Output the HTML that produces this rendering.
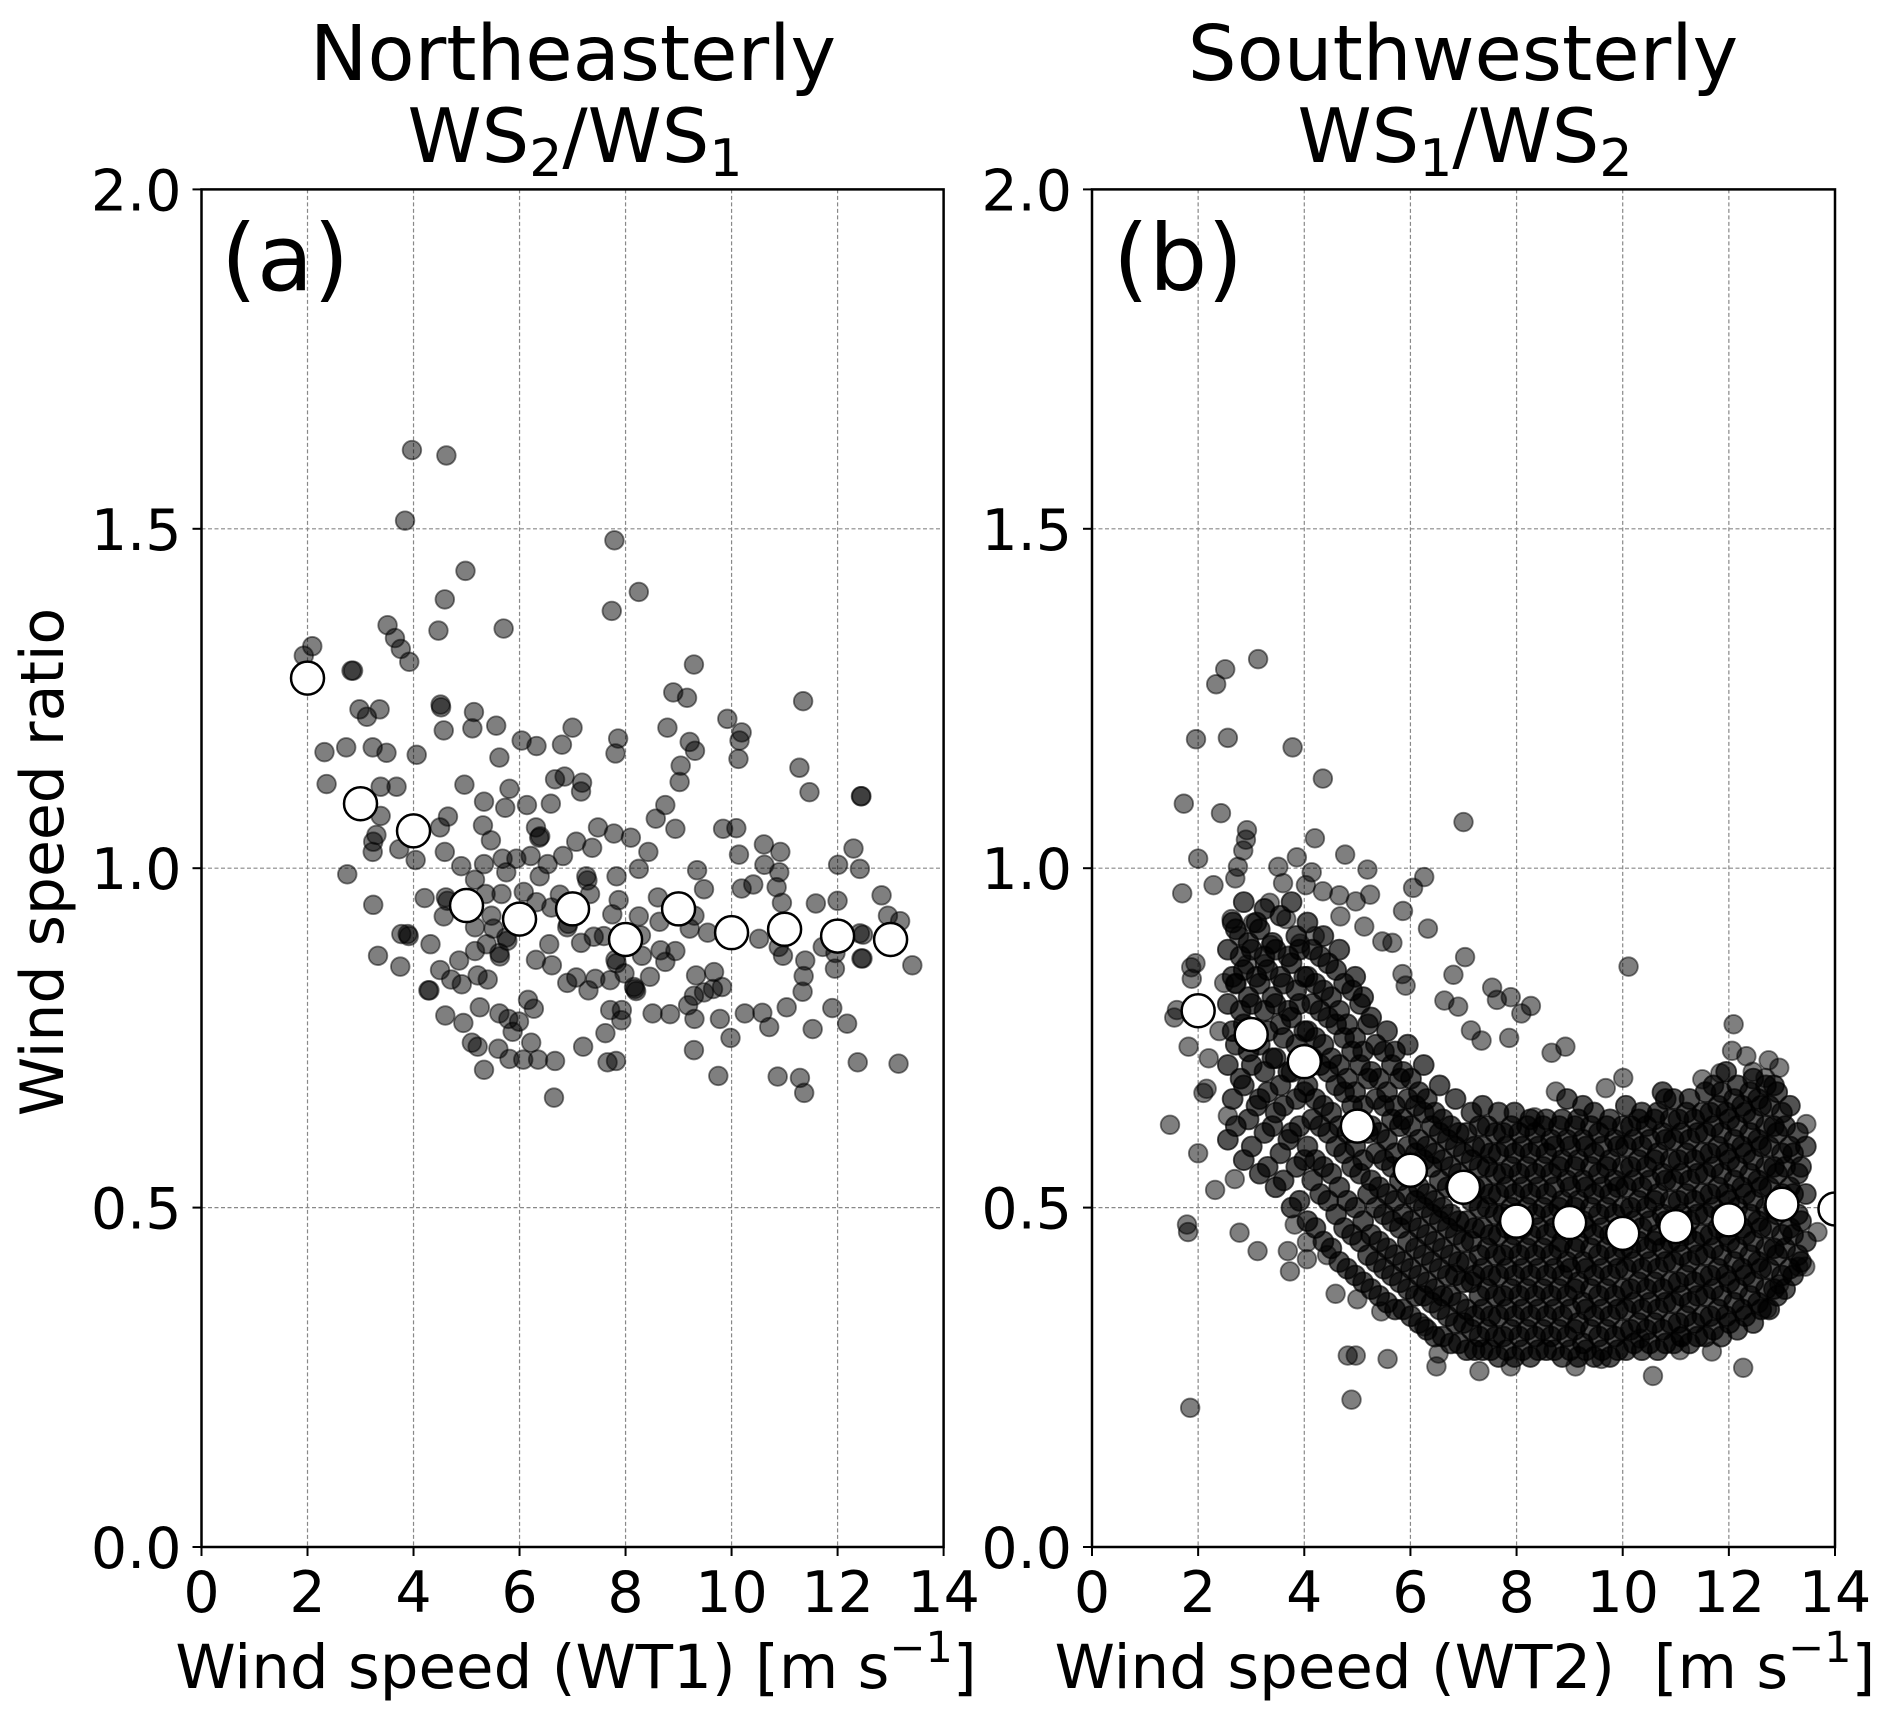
<!DOCTYPE html>
<html><head><meta charset="utf-8"><style>
html,body{margin:0;padding:0;background:#fff}
svg{display:block}
text{font-family:"DejaVu Sans","Liberation Sans",sans-serif;fill:#000}
</style></head><body>
<svg id="fig" width="1892" height="1721" viewBox="0 0 1892 1721" xmlns="http://www.w3.org/2000/svg">
<defs>
<clipPath id="clipA"><rect x="201.5" y="189.4" width="742.1" height="1357.6"/></clipPath>
<clipPath id="clipB"><rect x="1092" y="189.4" width="743" height="1357.6"/></clipPath>
</defs>
<g id="panelA"></g>
<g id="panelB"></g>
<text x="573" y="80" font-size="77" text-anchor="middle">Northeasterly</text>
<text x="575" y="162" font-size="75" text-anchor="middle">WS<tspan font-size="52" dy="14">2</tspan><tspan dy="-14">/WS</tspan><tspan font-size="52" dy="14">1</tspan></text>
<text x="1463" y="80" font-size="77" text-anchor="middle">Southwesterly</text>
<text x="1465" y="162" font-size="75" text-anchor="middle">WS<tspan font-size="52" dy="14">1</tspan><tspan dy="-14">/WS</tspan><tspan font-size="52" dy="14">2</tspan></text>
<text x="221" y="290" font-size="92">(a)</text>
<text x="1113" y="290" font-size="92">(b)</text>
<text x="576" y="1688" font-size="61" text-anchor="middle">Wind speed (WT1) [m s<tspan font-size="43" dy="-26">−1</tspan><tspan dy="26">]</tspan></text>
<text x="1465" y="1688" font-size="61" text-anchor="middle" xml:space="preserve" style="white-space:pre">Wind speed (WT2)  [m s<tspan font-size="43" dy="-26">−1</tspan><tspan dy="26">]</tspan></text>
<text transform="translate(63,862) rotate(-90)" font-size="60" text-anchor="middle">Wind speed ratio</text>
</svg>
<script>
const xTicks = [0,2,4,6,8,10,12,14];
const yTicks = [0.0,0.5,1.0,1.5,2.0];
const yTickLabels = ["0.0","0.5","1.0","1.5","2.0"];
const meanXA = [2,3,4,5,6,7,8,9,10,11,12,13];
const meanYA = [1.28,1.095,1.055,0.945,0.925,0.94,0.895,0.94,0.905,0.91,0.9,0.895];
const meanXB = [2,3,4,5,6,7,8,9,10,11,12,13,14];
const meanYB = [0.79,0.755,0.715,0.62,0.555,0.53,0.48,0.478,0.462,0.472,0.482,0.505,0.498];
const scatterA = "3.97,1.616 4.62,1.608 3.84,1.512 7.79,1.483 4.98,1.438 8.25,1.407 4.59,1.396 7.74,1.379 3.51,1.358 4.47,1.35 5.70,1.353 3.65,1.339 3.76,1.323 3.92,1.304 2.09,1.327 1.93,1.313 2.83,1.291 2.86,1.291 9.29,1.30 8.90,1.259 9.16,1.251 11.35,1.246 4.51,1.241 4.52,1.237 2.98,1.234 3.36,1.234 3.12,1.223 5.14,1.23 5.56,1.21 5.11,1.206 4.57,1.203 7.0,1.207 8.79,1.207 9.92,1.22 10.19,1.2 10.15,1.188 6.04,1.188 6.32,1.18 6.80,1.182 7.86,1.191 7.81,1.169 9.21,1.186 9.31,1.173 10.13,1.161 2.32,1.171 2.73,1.178 3.23,1.178 3.49,1.17 4.06,1.167 5.62,1.163 11.28,1.148 9.04,1.151 9.02,1.127 2.36,1.124 3.38,1.12 3.68,1.12 4.96,1.123 5.81,1.117 6.67,1.131 6.85,1.135 7.18,1.126 7.16,1.113 11.47,1.112 12.44,1.106 12.45,1.106 5.33,1.098 5.73,1.089 6.14,1.093 6.59,1.095 8.75,1.093 3.38,1.077 4.65,1.076 8.57,1.073 8.94,1.058 5.31,1.063 6.31,1.06 6.37,1.045 6.39,1.047 7.48,1.06 7.78,1.051 8.10,1.045 9.84,1.058 10.09,1.059 10.61,1.035 10.92,1.024 12.3,1.029 3.30,1.049 3.24,1.039 3.23,1.024 4.50,1.06 5.46,1.041 3.73,1.028 4.04,1.012 4.59,1.024 5.68,1.014 5.94,1.014 6.21,1.018 6.53,1.006 6.82,1.018 7.07,1.039 7.37,1.03 8.43,1.024 10.14,1.02 10.62,1.005 10.90,0.994 12.01,1.005 12.42,0.999 2.75,0.991 4.90,1.003 5.33,1.006 5.16,0.983 8.25,0.999 9.35,0.997 5.75,0.994 6.38,0.988 7.26,0.988 7.28,0.982 7.83,0.988 10.19,0.970 10.41,0.976 9.48,0.969 10.85,0.972 12.83,0.96 4.21,0.956 4.61,0.957 4.64,0.952 5.36,0.962 5.66,0.962 6.08,0.965 6.76,0.961 7.33,0.962 7.87,0.953 8.61,0.957 11.59,0.948 12.0,0.952 3.24,0.946 10.95,0.949 12.95,0.930 13.18,0.922 4.57,0.929 4.87,0.941 5.47,0.930 6.32,0.95 6.6,0.942 6.90,0.913 6.92,0.918 7.75,0.932 8.25,0.929 8.64,0.921 9.30,0.930 9.21,0.911 9.55,0.905 10.52,0.896 12.48,0.902 3.77,0.903 3.89,0.903 3.91,0.900 5.16,0.913 5.51,0.911 5.75,0.898 5.77,0.893 6.56,0.888 4.32,0.888 7.40,0.899 7.59,0.900 8.29,0.901 10.89,0.884 11.72,0.884 11.96,0.875 12.42,0.904 3.33,0.871 3.75,0.855 5.16,0.878 5.38,0.888 5.62,0.875 5.63,0.870 6.31,0.865 6.61,0.857 7.16,0.890 7.81,0.865 7.83,0.860 8.31,0.871 8.66,0.879 8.94,0.878 8.75,0.862 10.97,0.871 11.39,0.864 11.95,0.852 12.45,0.867 12.47,0.867 13.41,0.857 4.86,0.864 4.50,0.850 4.71,0.836 4.91,0.829 5.21,0.842 5.40,0.836 6.90,0.831 7.07,0.839 7.30,0.820 7.43,0.837 7.71,0.835 7.98,0.845 8.16,0.825 8.18,0.822 8.46,0.840 9.33,0.842 9.67,0.847 9.82,0.825 11.36,0.841 11.34,0.818 4.28,0.82 4.30,0.82 9.29,0.812 9.48,0.817 9.65,0.822 8.20,0.819 4.60,0.783 4.94,0.772 5.25,0.795 5.62,0.786 5.79,0.778 5.99,0.774 6.16,0.806 6.27,0.793 5.87,0.759 7.71,0.791 7.93,0.791 7.92,0.776 7.62,0.757 8.51,0.786 8.84,0.785 9.18,0.798 9.30,0.778 9.78,0.778 10.25,0.786 10.58,0.787 10.71,0.766 11.04,0.795 11.53,0.763 11.90,0.794 12.18,0.771 9.98,0.75 9.29,0.732 5.10,0.743 5.21,0.737 5.60,0.734 5.81,0.719 6.07,0.718 6.22,0.743 6.35,0.718 6.67,0.716 7.20,0.737 7.66,0.714 7.82,0.716 5.33,0.703 6.65,0.662 9.75,0.694 10.87,0.693 11.29,0.691 11.37,0.669 12.38,0.714 13.15,0.712";
const scatterB = "3.13,1.308 2.51,1.293 2.34,1.271 1.96,1.19 2.56,1.192 3.78,1.178 4.35,1.132 1.73,1.095 2.43,1.081 7.0,1.068 2.92,1.056 2.90,1.042 2.85,1.026 4.20,1.044 2.0,1.014 4.77,1.02 3.86,1.016 2.75,1.002 3.51,1.002 5.19,0.998 2.70,0.985 2.29,0.975 4.14,0.994 6.26,0.987 1.70,0.963 6.05,0.971 3.60,0.978 4.03,0.975 4.35,0.966 5.24,0.961 4.66,0.960 4.97,0.951 3.35,0.949 5.86,0.937 2.63,0.925 3.03,0.919 3.66,0.925 5.13,0.914 6.33,0.911 2.77,0.9 3.92,0.889 4.20,0.9 4.68,0.929 5.47,0.892 5.66,0.89 3.37,0.887 10.11,0.855 7.03,0.869 6.81,0.843 1.87,0.854 1.88,0.837 2.92,0.858 3.26,0.859 2.49,0.831 2.71,0.830 5.85,0.844 5.91,0.827 7.54,0.824 7.89,0.81 8.27,0.797 8.09,0.786 7.63,0.806 6.64,0.805 6.90,0.796 1.60,0.791 12.09,0.77 1.82,0.737 1.47,0.622 2.10,0.669 2.16,0.675 2.56,0.635 2.32,0.526 2.69,0.542 1.79,0.475 1.81,0.464 2.78,0.463 3.12,0.436 3.69,0.436 3.73,0.406 4.05,0.424 4.43,0.43 4.82,0.282 4.97,0.282 5.57,0.277 4.89,0.217 1.85,0.205 6.49,0.266 10.57,0.252 12.27,0.264 11.08,0.29 13.46,0.623 13.67,0.464 10.01,0.691 11.5,0.689 11.84,0.698 12.75,0.717 12.95,0.706 12.45,0.7 12.06,0.731 12.33,0.723 12.69,0.691 8.92,0.737 8.66,0.728 7.86,0.75 7.14,0.761 7.34,0.746 8.34,0.633 8.74,0.671 9.68,0.676 13.44,0.413 13.31,0.413 12.95,0.387 12.72,0.351 11.68,0.288 11.09,0.31 10.33,0.307 9.60,0.277 9.11,0.266 7.89,0.266 7.30,0.259 6.53,0.285 6.26,0.325 5.45,0.347 5.0,0.365 4.59,0.373 4.05,0.449 3.82,0.475 1.55,0.78 1.95,0.86 2.2,0.72 2.4,0.76 2.0,0.58";
const columnsB = [
"2.6|60 66 71 76 80 84 88 92","2.9|57 63 68 73 77 81 85 89 95","3.2|55 61 66 70 74 79 83 87 91 94",
"3.5|53 58 64 68 72 77 80 84 88 93","3.8|50 56 61 66 70 74 78 82 86 90 95","4.1|48 54 59 63 68 72 76 80 84 88 92",
"4.4|45 51 56 61 65 70 74 78 82 86 90","4.7|42 47 53 58 62 67 71 75 79 83 88","5.0|40 45 50 55 59 63 67 71 75 80 84",
"5.3|38 42 46 50 54 58 62 66 70 74 78","5.6|36 40 44 48 52 56 60 63 67 71 76","5.9|35 38 42 45 49 52 56 59 63 66 70 74",
"6.2|33 37 40 43 47 50 53 57 60 64 67 71","6.5|31 35 38 41 45 48 51 54 58 61 64 68","6.8|30 33 37 40 43 46 49 53 56 59 62 66",
"7.1|29 32 35 39 42 45 48 51 54 57 61 64","7.4|29 32 35 38 41 44 47 50 53 56 59 62 65","7.7|28 31 34 37 40 43 46 49 52 55 58 61 64",
"8.0|28 31 34 37 40 43 46 49 52 55 58 61 64","8.3|28 31 34 37 40 43 46 49 52 55 58 61 63","8.6|29 31 34 37 40 43 46 49 52 55 58 60 63",
"8.9|28 31 34 37 40 42 45 48 51 54 57 60 63 66","9.2|28 30 33 36 39 42 45 48 51 54 57 60 63 65","9.5|28 31 34 37 40 43 46 49 52 55 58 61 64",
"9.8|28 31 34 37 40 43 46 49 52 54 57 60 63","10.1|29 32 35 38 41 44 47 50 53 56 59 62 65","10.4|29 32 35 38 41 44 47 50 53 56 59 62 64",
"10.7|29 32 35 38 41 44 46 49 52 55 58 61 64 67","11.0|30 33 36 39 42 45 48 51 54 57 60 63 66","11.3|30 33 36 39 42 45 48 51 54 57 60 63 66",
"11.6|31 34 37 40 43 46 49 52 55 58 61 64 67","11.9|31 34 37 40 43 46 49 52 55 58 61 64 67 70","12.2|32 35 38 41 44 47 50 53 56 59 62 65 68",
"12.5|33 36 39 42 45 48 51 54 57 60 63 66 69","12.8|35 38 41 44 47 50 53 56 59 62 65 68","13.1|38 41 44 47 50 53 56 59 62 65",
"13.4|42 45 48 52 56 59"];
const columnsB2 = [
"2.75|62 69 74 79 83 87 91","3.05|59 65 71 75 80 84 88 92","3.35|56 62 67 72 76 81 85 89",
"3.65|54 60 65 70 75 79 83 87","3.95|51 57 62 67 72 76 80 84 88","4.25|47 52 57 62 66 71 75 79 83 87",
"4.55|44 49 55 59 64 68 72 77 81 85","4.85|41 46 51 56 61 65 69 73 77 82","5.15|39 43 48 52 57 61 65 69 73 77 81",
"5.45|37 41 45 49 53 57 61 65 69 73","5.75|35 39 43 47 51 54 58 62 65 69 73","6.05|34 37 41 44 48 51 55 58 62 65 69",
"6.35|32 36 39 42 46 49 52 56 59 62 66","6.65|31 34 37 40 44 47 50 53 57 60 63","6.95|30 33 36 39 42 45 48 52 55 58 61",
"7.25|29 31 34 37 40 43 47 50 53 56 59 62","7.55|29 31 34 37 40 43 46 49 52 55 58 61","7.85|29 32 35 38 41 44 47 50 53 56 59 62",
"8.15|29 32 35 38 41 44 47 50 53 56 59 62","8.45|29 32 35 38 41 44 47 50 53 56 59 62","8.75|29 32 35 38 41 44 47 50 53 56 59 62",
"9.05|29 32 35 38 41 44 47 50 53 56 59 62","9.35|29 32 35 38 41 44 47 50 53 56 59 62","9.65|29 32 35 38 41 44 47 50 53 56 59 62",
"9.95|29 32 35 38 41 44 47 50 53 56 59 62","10.25|30 33 36 39 42 45 48 51 54 57 60 63","10.55|30 33 36 39 42 45 48 51 54 57 60 63",
"10.85|30 33 36 39 42 45 48 51 54 57 60 63 66","11.15|31 34 37 40 43 46 49 52 55 58 61 64","11.45|31 34 37 40 43 46 49 52 55 58 61 64",
"11.75|32 35 38 41 44 47 50 53 56 59 62 65 68","12.05|33 36 39 42 45 48 51 54 57 60 63 66","12.35|34 37 40 43 46 49 52 55 58 61 64 67",
"12.65|35 38 41 44 47 50 53 56 59 62 65 68","12.95|37 40 43 46 49 52 55 58 61 64 67","13.25|40 43 46 49 52 55 58 61"];

const NS = "http://www.w3.org/2000/svg";
const Y0 = 1547, Y1 = 189.4;
function mk(parent, tag, attrs){const e=document.createElementNS(NS,tag);for(const k in attrs)e.setAttribute(k,attrs[k]);parent.appendChild(e);return e;}
function parsePairs(s){return s.trim().split(/\s+/).map(p=>p.split(',').map(Number));}
function parseCols(cols){const out=[];cols.forEach(c=>{const [x,ys]=c.split('|');ys.split(' ').forEach((y,i)=>out.push([Number(x)+((i%2)?0.05:-0.04),Number(y)/100,1]));});return out;}

function panel(g, L, R, clipId, pts, mx, my, tag){
  const sx = v => L + v*(R-L)/14;
  const sy = v => Y0 - v*(Y0-Y1)/2;
  xTicks.forEach(t=>{ if(t>0&&t<14){const l=mk(g,'line',{x1:sx(t),x2:sx(t),y1:Y1,y2:Y0,stroke:'#888','stroke-width':1.2,'stroke-dasharray':'4,2.5'});
    
    }});
  yTicks.forEach(t=>{ if(t>0&&t<2){const l=mk(g,'line',{x1:L,x2:R,y1:sy(t),y2:sy(t),stroke:'#888','stroke-width':1.2,'stroke-dasharray':'4,2.5'});
    
    }});
  const cg = mk(g,'g',{'clip-path':'url(#'+clipId+')'});
  pts.forEach(p=>{const a=p[2]?0.68:0.5;const c=mk(cg,'circle',{cx:sx(p[0]),cy:sy(p[1]),r:p[2]?10:9.3,fill:'rgba(0,0,0,'+a+')',stroke:'rgba(0,0,0,'+a+')','stroke-width':1.8});
    
    });
  mx.forEach((x,i)=>{const c=mk(cg,'circle',{cx:sx(x),cy:sy(my[i]),r:16.5,fill:'#fff',stroke:'#000','stroke-width':2.5});
    
    });
  const f=mk(g,'rect',{x:L,y:Y1,width:R-L,height:Y0-Y1,fill:'none',stroke:'#000','stroke-width':2.5});
  
  
  xTicks.forEach(t=>{mk(g,'line',{x1:sx(t),x2:sx(t),y1:Y0,y2:Y0+9,stroke:'#000','stroke-width':2});
    const tx=mk(g,'text',{x:sx(t),y:1612,'font-size':57,'text-anchor':'middle'});tx.textContent=t;
    
    });
  yTicks.forEach((t,i)=>{mk(g,'line',{x1:L-9,x2:L,y1:sy(t),y2:sy(t),stroke:'#000','stroke-width':2});
    const tx=mk(g,'text',{x:L-20,y:sy(t)+21,'font-size':57,'text-anchor':'end'});tx.textContent=yTickLabels[i];
    
    });
}
panel(document.getElementById('panelA'),201.5,943.6,'clipA',parsePairs(scatterA),meanXA,meanYA,'a');
panel(document.getElementById('panelB'),1092,1835,'clipB',parsePairs(scatterB).concat(parseCols(columnsB)).concat(parseCols(columnsB2)),meanXB,meanYB,'b');
</script>
</body></html>
